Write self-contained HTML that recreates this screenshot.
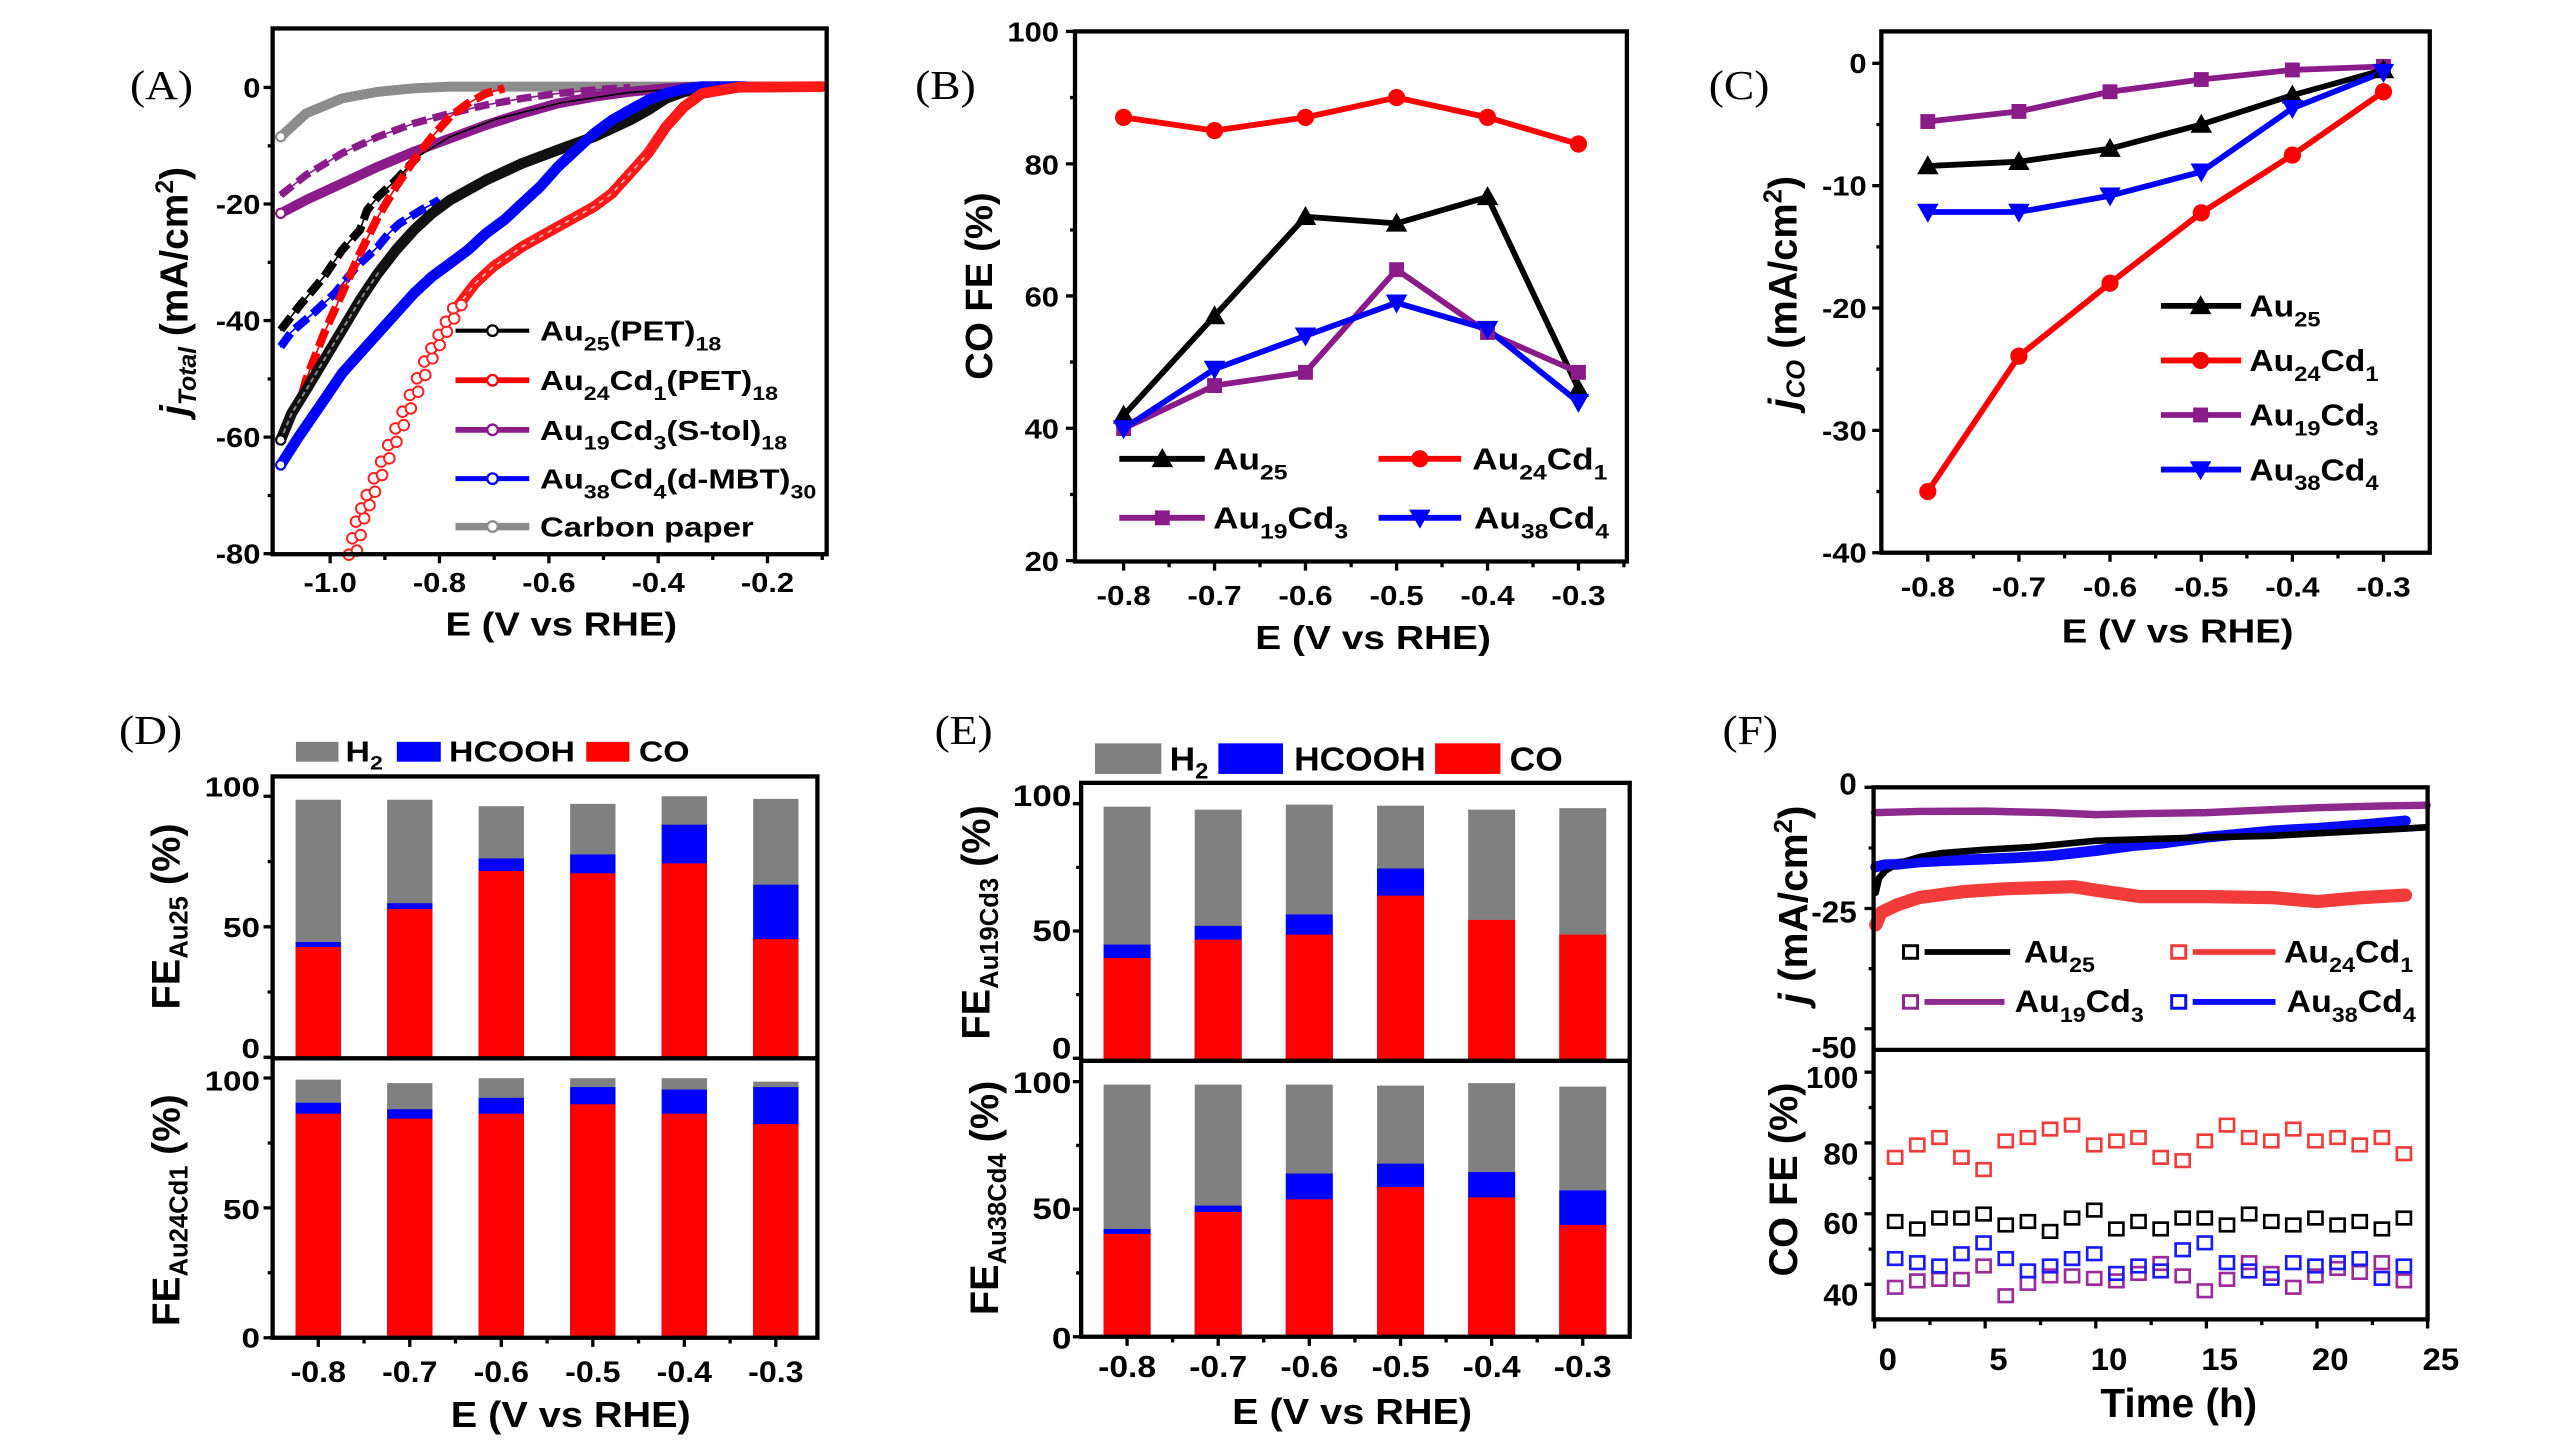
<!DOCTYPE html>
<html><head><meta charset="utf-8">
<style>
html,body{margin:0;padding:0;background:#fff;}
svg{display:block;}
text{font-family:"Liberation Sans",Arial,sans-serif;font-weight:bold;fill:#000;}
text.pl{font-family:"Liberation Serif","Times New Roman",serif;font-weight:normal;}
</style></head>
<body>
<svg xmlns="http://www.w3.org/2000/svg" width="2566" height="1449" viewBox="0 0 1552 876.4" preserveAspectRatio="none">
<rect x="0" y="0" width="1552" height="876.4" fill="#fff"/>

<!-- ================= PANEL A ================= -->
<text class="pl" transform="translate(78.6,60) scale(1.1,1)" font-size="25">(A)</text>
<g fill="none" stroke-linejoin="round" stroke-linecap="round">
  <path d="M169.8,82.7 L185.1,68.6 L206.9,59.5 L228.6,55.5 L250.4,53.4 L272.2,52.4 L497,52.4" stroke="#8c8c8c" stroke-width="6"/>
  <path d="M169.8,118 L185.1,105.9 L206.9,92.7 L228.6,82.7 L250.4,74.6 L272.2,68.6 L294,63.5 L315.8,59.5 L337.5,56.5 L359.3,54.4 L381.1,52.8" stroke="#8a1c8a" stroke-width="1"/>
  <path d="M169.8,118 L185.1,105.9 L206.9,92.7 L228.6,82.7 L250.4,74.6 L272.2,68.6 L294,63.5 L315.8,59.5 L337.5,56.5 L359.3,54.4 L381.1,52.8" stroke="#8a1c8a" stroke-width="4.5" stroke-dasharray="9 4" stroke-linecap="butt"/>
  <path d="M169.8,129 L185.1,121 L206.9,110.9 L228.6,100.8 L250.4,91.7 L272.2,83.7 L294,75.6 L315.8,68.6 L337.5,62.5 L359.3,58.5 L381.1,55.5 L402.9,53.4 L424.7,52.4 L470,52.4" stroke="#8a1c8a" stroke-width="6"/>
  <path d="M169.8,199.6 L180.7,185.5 L196,167.3 L206.9,151.2 L217.7,139.1 L222.1,127 L228.6,119 L239.5,108.9 L252.6,94.8 L272.2,82.7 L300,72 L340,62 L380,56 L420,53" stroke="#000" stroke-width="1"/>
  <path d="M169.8,199.6 L180.7,185.5 L196,167.3 L206.9,151.2 L217.7,139.1 L222.1,127 L228.6,119 L239.5,108.9 L252.6,94.8" stroke="#000" stroke-width="5" stroke-dasharray="10 4" stroke-linecap="butt"/>
  <path d="M169.8,209.7 L176.4,200.6 L189.4,189.5 L202.5,177.4 L215.6,161.3 L228.6,149.2 L235.2,141.1 L241.7,135.1 L254.8,127 L265.7,121" stroke="#0000ff" stroke-width="1"/>
  <path d="M169.8,209.7 L176.4,200.6 L189.4,189.5 L202.5,177.4 L215.6,161.3 L228.6,149.2 L235.2,141.1 L241.7,135.1 L254.8,127 L265.7,121" stroke="#0000ff" stroke-width="5" stroke-dasharray="10 4" stroke-linecap="butt"/>
  <path d="M182.9,237.9 L185.1,229.8 L196,201.6 L206.9,177.4 L217.7,153.2 L228.6,131.1 L239.5,112.9 L250.4,96.8 L261.3,82.7 L272.2,70.6 L283.1,62.5 L294,56.5 L304.9,53.4" stroke="#ff0000" stroke-width="1"/>
  <path d="M182.9,237.9 L185.1,229.8 L196,201.6 L206.9,177.4 L217.7,153.2 L228.6,131.1 L239.5,112.9 L250.4,96.8 L261.3,82.7 L272.2,70.6 L283.1,62.5 L294,56.5 L304.9,53.4" stroke="#ff0000" stroke-width="5" stroke-dasharray="11 4" stroke-linecap="butt"/>
  <path d="M169.8,266.1 L176.4,250 L185.1,235.9 L196,217.7 L206.9,199.6 L217.7,181.5 L228.6,165.3 L239.5,151.2 L250.4,139.1 L261.3,129 L272.2,121 L294,108.9 L315.8,98.8 L337.5,90.7 L359.3,82.7 L381.1,72.6 L392,66.5 L402.9,59.5 L413.8,55.5 L424.7,53.4 L446.4,52.4" stroke="#111" stroke-width="6.5"/>
  <path d="M169.8,266.1 L176.4,250 L185.1,235.9 L196,217.7 L206.9,199.6 L217.7,181.5 L228.6,165.3" stroke="#888" stroke-width="1.2" stroke-dasharray="2 3"/>
  <path d="M169.8,281.2 L180.7,264.1 L196,241.9 L206.9,225.8 L217.7,213.7 L228.6,201.6 L239.5,189.5 L250.4,177.4 L261.3,167.3 L272.2,159.3 L283.1,151.2 L294,141.1 L304.9,133.1 L315.8,123 L326.7,112.9 L337.5,100.8 L348.4,90.7 L359.3,80.7 L370.2,72.6 L381.1,66.5 L392,60.5 L402.9,56.5 L413.8,53.8 L424.7,52.4 L450,52.4" stroke="#0000ff" stroke-width="6.5"/>
  <path d="M276.6,185.5 L287.4,171.4 L298.3,161.3 L315.8,149.2 L337.5,137.1 L359.3,125 L370.2,116.9 L381.1,104.8 L392,92.7 L402.9,76.6 L413.8,64.5 L424.7,56.5 L446.4,52.8 L497,52.4" stroke="#ff1a1a" stroke-width="6.5"/>
  <path d="M276.6,185.5 L287.4,171.4 L298.3,161.3 L315.8,149.2 L337.5,137.1 L359.3,125 L370.2,116.9 L381.1,104.8 L392,92.7" stroke="#fff" stroke-width="1" stroke-dasharray="2 4" opacity="0.7"/>
</g>
<g fill="#fff" stroke="#ff2020" stroke-width="1.2">
  <circle cx="211" cy="335.5" r="3.2"/><circle cx="215.9" cy="333" r="3.2"/>
  <circle cx="213.1" cy="325.6" r="3.2"/><circle cx="218.1" cy="323.6" r="3.2"/>
  <circle cx="215.3" cy="315.5" r="3.2"/><circle cx="220.3" cy="313.5" r="3.2"/>
  <circle cx="218.5" cy="307.5" r="3.2"/><circle cx="223.5" cy="305.5" r="3.2"/>
  <circle cx="221.8" cy="299.4" r="3.2"/><circle cx="226.8" cy="297.4" r="3.2"/>
  <circle cx="226.1" cy="289.3" r="3.2"/><circle cx="231.1" cy="287.3" r="3.2"/>
  <circle cx="230.5" cy="279.2" r="3.2"/><circle cx="235.5" cy="277.2" r="3.2"/>
  <circle cx="234.8" cy="269.2" r="3.2"/><circle cx="239.8" cy="267.2" r="3.2"/>
  <circle cx="239.2" cy="259.1" r="3.2"/><circle cx="244.2" cy="257.1" r="3.2"/>
  <circle cx="243.5" cy="249" r="3.2"/><circle cx="248.5" cy="247" r="3.2"/>
  <circle cx="247.9" cy="238.9" r="3.2"/><circle cx="252.9" cy="236.9" r="3.2"/>
  <circle cx="252.2" cy="228.8" r="3.2"/><circle cx="257.2" cy="226.8" r="3.2"/>
  <circle cx="256.6" cy="218.7" r="3.2"/><circle cx="261.6" cy="216.7" r="3.2"/>
  <circle cx="260.9" cy="210.7" r="3.2"/><circle cx="265.9" cy="208.7" r="3.2"/>
  <circle cx="265.3" cy="202.6" r="3.2"/><circle cx="270.3" cy="200.6" r="3.2"/>
  <circle cx="269.7" cy="194.6" r="3.2"/><circle cx="274.7" cy="192.6" r="3.2"/>
  <circle cx="274.1" cy="186.5" r="3.2"/><circle cx="279.1" cy="184.5" r="3.2"/>
</g>
<g fill="#fff" stroke-width="1.3">
  <circle cx="169.8" cy="82.7" r="2.8" stroke="#8c8c8c"/>
  <circle cx="169.8" cy="129" r="2.8" stroke="#8a1c8a"/>
  <circle cx="169.8" cy="266.1" r="2.8" stroke="#000"/>
  <circle cx="169.8" cy="281.2" r="2.8" stroke="#0000ff"/>
</g>
<!-- A legend -->
<g fill="none">
  <path d="M275.5,200 H320.1" stroke="#000" stroke-width="2.5"/>
  <path d="M275.5,230 H320.1" stroke="#ff0000" stroke-width="3.5"/>
  <path d="M275.5,260 H320.1" stroke="#8a1c8a" stroke-width="3.5"/>
  <path d="M275.5,289.5 H320.1" stroke="#0000ff" stroke-width="3"/>
  <path d="M275.5,318.5 H320.1" stroke="#8c8c8c" stroke-width="4.5"/>
</g>
<g fill="#fff" stroke-width="1.4">
  <circle cx="297.9" cy="200" r="3.2" stroke="#000"/>
  <circle cx="297.9" cy="230" r="3.2" stroke="#ff0000"/>
  <circle cx="297.9" cy="260" r="3.2" stroke="#8a1c8a"/>
  <circle cx="297.9" cy="289.5" r="3.2" stroke="#0000ff"/>
  <circle cx="297.9" cy="318.5" r="3.2" stroke="#8c8c8c"/>
</g>
<g font-size="17">
  <text transform="translate(326.6,206) scale(1.17,1)">Au<tspan font-size="12" dy="6">25</tspan><tspan dy="-6">(PET)</tspan><tspan font-size="12" dy="6">18</tspan></text>
  <text transform="translate(326.6,236) scale(1.17,1)">Au<tspan font-size="12" dy="6">24</tspan><tspan dy="-6">Cd</tspan><tspan font-size="12" dy="6">1</tspan><tspan dy="-6">(PET)</tspan><tspan font-size="12" dy="6">18</tspan></text>
  <text transform="translate(326.6,266) scale(1.17,1)">Au<tspan font-size="12" dy="6">19</tspan><tspan dy="-6">Cd</tspan><tspan font-size="12" dy="6">3</tspan><tspan dy="-6">(S-tol)</tspan><tspan font-size="12" dy="6">18</tspan></text>
  <text transform="translate(326.6,295.5) scale(1.17,1)">Au<tspan font-size="12" dy="6">38</tspan><tspan dy="-6">Cd</tspan><tspan font-size="12" dy="6">4</tspan><tspan dy="-6">(d-MBT)</tspan><tspan font-size="12" dy="6">30</tspan></text>
  <text transform="translate(326.6,324.5) scale(1.17,1)">Carbon paper</text>
</g>
<!-- A axes -->
<rect x="164.9" y="17.2" width="335.1" height="318" fill="none" stroke="#000" stroke-width="2.6"/>
<path d="M164.9,52.9h-5.5M164.9,123.4h-5.5M164.9,193.9h-5.5M164.9,264.4h-5.5M164.9,334.9h-5.5M164.9,88.2h-3M164.9,158.7h-3M164.9,229.2h-3M164.9,299.7h-3
M199.7,335.2v5.5M265.8,335.2v5.5M332,335.2v5.5M398.1,335.2v5.5M464.2,335.2v5.5M232.8,335.2v3.5M298.9,335.2v3.5M365,335.2v3.5M431.1,335.2v3.5M497.3,335.2v3.5" stroke="#000" stroke-width="2" fill="none"/>
<g font-size="17" text-anchor="end">
  <text transform="translate(157.5,58.9) scale(1.1,1)">0</text>
  <text transform="translate(157.5,129.4) scale(1.1,1)">-20</text>
  <text transform="translate(157.5,199.9) scale(1.1,1)">-40</text>
  <text transform="translate(157.5,270.4) scale(1.1,1)">-60</text>
  <text transform="translate(157.5,340.9) scale(1.1,1)">-80</text>
</g>
<g font-size="17" text-anchor="middle">
  <text transform="translate(199.7,358) scale(1.1,1)">-1.0</text>
  <text transform="translate(265.8,358) scale(1.1,1)">-0.8</text>
  <text transform="translate(332,358) scale(1.1,1)">-0.6</text>
  <text transform="translate(398.1,358) scale(1.1,1)">-0.4</text>
  <text transform="translate(464.2,358) scale(1.1,1)">-0.2</text>
</g>
<text transform="translate(339.5,384.5) scale(1.14,1)" font-size="20.3" text-anchor="middle">E (V vs RHE)</text>
<text transform="translate(113.5,176.3) rotate(-90)" font-size="23.5" text-anchor="middle"><tspan font-style="italic">j</tspan><tspan font-style="italic" font-size="15" dy="5">Total</tspan><tspan dy="-5"> (mA/cm</tspan><tspan font-size="15" dy="-9">2</tspan><tspan dy="9">)</tspan></text>

<!-- ================= PANEL B ================= -->
<text class="pl" transform="translate(553.5,60) scale(1.1,1)" font-size="25">(B)</text>
<g fill="none" stroke-width="3.5" stroke-linejoin="round">
  <polyline points="679.6,71 734.6,79 789.6,71 844.7,59 899.7,71 954.7,87.1" stroke="#ff0000"/>
  <polyline points="679.6,251.2 734.6,191.1 789.6,131.1 844.7,135.1 899.7,119.1 954.7,235.2" stroke="#000"/>
  <polyline points="679.6,259.2 734.6,233.2 789.6,225.2 844.7,163.1 899.7,201.1 954.7,225.2" stroke="#8a1c8a"/>
  <polyline points="679.6,259.2 734.6,223.2 789.6,203.1 844.7,183.1 899.7,199.1 954.7,243.2" stroke="#0000ff"/>
</g>
<g fill="#ff0000">
  <circle cx="679.6" cy="71" r="5.2"/><circle cx="734.6" cy="79" r="5.2"/><circle cx="789.6" cy="71" r="5.2"/>
  <circle cx="844.7" cy="59" r="5.2"/><circle cx="899.7" cy="71" r="5.2"/><circle cx="954.7" cy="87.1" r="5.2"/>
</g>
<path fill="#000" d="M679.6,244.7 L673.1,256.2 L686.1,256.2Z M734.6,184.6 L728.1,196.1 L741.1,196.1Z M789.6,124.6 L783.1,136.1 L796.1,136.1Z M844.7,128.6 L838.2,140.1 L851.2,140.1Z M899.7,112.6 L893.2,124.1 L906.2,124.1Z M954.7,228.7 L948.2,240.2 L961.2,240.2Z"/>
<g fill="#8a1c8a">
  <rect x="675.1" y="254.7" width="9" height="9"/><rect x="730.1" y="228.7" width="9" height="9"/><rect x="785.1" y="220.7" width="9" height="9"/>
  <rect x="840.2" y="158.6" width="9" height="9"/><rect x="895.2" y="196.6" width="9" height="9"/><rect x="950.2" y="220.7" width="9" height="9"/>
</g>
<path fill="#0000ff" d="M679.6,265.7 L673.1,254.2 L686.1,254.2Z M734.6,229.7 L728.1,218.2 L741.1,218.2Z M789.6,209.6 L783.1,198.1 L796.1,198.1Z M844.7,189.6 L838.2,178.1 L851.2,178.1Z M899.7,205.6 L893.2,194.1 L906.2,194.1Z M954.7,249.7 L948.2,238.2 L961.2,238.2Z"/>
<!-- B legend -->
<g fill="none" stroke-width="3.5">
  <path d="M677,277.5 H728.7" stroke="#000"/>
  <path d="M833.8,277.5 H883.8" stroke="#ff0000"/>
  <path d="M677,313.2 H728.7" stroke="#8a1c8a"/>
  <path d="M833.8,313.2 H883.8" stroke="#0000ff"/>
</g>
<path fill="#000" d="M703,271 L696.5,282.5 L709.5,282.5Z"/>
<circle cx="858.8" cy="277.5" r="5.2" fill="#ff0000"/>
<rect x="698.5" y="308.7" width="9" height="9" fill="#8a1c8a"/>
<path fill="#0000ff" d="M858.8,319.7 L852.3,308.2 L865.3,308.2Z"/>
<g font-size="18.5">
  <text transform="translate(733.7,284) scale(1.15,1)">Au<tspan font-size="13" dy="6">25</tspan></text>
  <text transform="translate(890.5,284) scale(1.15,1)">Au<tspan font-size="13" dy="6">24</tspan><tspan dy="-6">Cd</tspan><tspan font-size="13" dy="6">1</tspan></text>
  <text transform="translate(733.7,319.7) scale(1.15,1)">Au<tspan font-size="13" dy="6">19</tspan><tspan dy="-6">Cd</tspan><tspan font-size="13" dy="6">3</tspan></text>
  <text transform="translate(891.5,319.7) scale(1.15,1)">Au<tspan font-size="13" dy="6">38</tspan><tspan dy="-6">Cd</tspan><tspan font-size="13" dy="6">4</tspan></text>
</g>
<!-- B axes -->
<rect x="650.2" y="19" width="333.8" height="320.6" fill="none" stroke="#000" stroke-width="2.6"/>
<path d="M650.2,19h-5.5M650.2,99.1h-5.5M650.2,179h-5.5M650.2,259h-5.5M650.2,339.1h-5.5M650.2,59h-3M650.2,139.1h-3M650.2,219h-3M650.2,299.1h-3
M679.6,339.6v5.5M734.6,339.6v5.5M789.6,339.6v5.5M844.7,339.6v5.5M899.7,339.6v5.5M954.7,339.6v5.5M707.1,339.6v3.5M762.1,339.6v3.5M817.2,339.6v3.5M872.2,339.6v3.5M927.2,339.6v3.5M982.2,339.6v3.5" stroke="#000" stroke-width="2" fill="none"/>
<g font-size="17" text-anchor="end">
  <text transform="translate(640.5,25) scale(1.1,1)">100</text>
  <text transform="translate(640.5,105.4) scale(1.1,1)">80</text>
  <text transform="translate(640.5,185.3) scale(1.1,1)">60</text>
  <text transform="translate(640.5,265.3) scale(1.1,1)">40</text>
  <text transform="translate(640.5,345.4) scale(1.1,1)">20</text>
</g>
<g font-size="17" text-anchor="middle">
  <text transform="translate(679.6,366) scale(1.12,1)">-0.8</text>
  <text transform="translate(734.6,366) scale(1.12,1)">-0.7</text>
  <text transform="translate(789.6,366) scale(1.12,1)">-0.6</text>
  <text transform="translate(844.7,366) scale(1.12,1)">-0.5</text>
  <text transform="translate(899.7,366) scale(1.12,1)">-0.4</text>
  <text transform="translate(954.7,366) scale(1.12,1)">-0.3</text>
</g>
<text transform="translate(830.5,392.5) scale(1.16,1)" font-size="20.3" text-anchor="middle">E (V vs RHE)</text>
<text transform="translate(600,173) rotate(-90)" font-size="23.2" text-anchor="middle">CO FE (%)</text>

<!-- ================= PANEL C ================= -->
<text class="pl" transform="translate(1033.5,60) scale(1.1,1)" font-size="25">(C)</text>
<g fill="none" stroke-width="3.5" stroke-linejoin="round">
  <polyline points="1166,73.5 1221.1,67.4 1276.2,55.5 1331.4,48.1 1386.5,42.3 1441.6,40.2" stroke="#8a1c8a"/>
  <polyline points="1166,100.4 1221.1,97.8 1276.2,89.9 1331.4,75.3 1386.5,57.6 1441.6,42.3" stroke="#000"/>
  <polyline points="1166,128.2 1221.1,128.2 1276.2,118.4 1331.4,103.9 1386.5,65.5 1441.6,43.6" stroke="#0000ff"/>
  <polyline points="1166,297.3 1221.1,215.4 1276.2,171.3 1331.4,128.7 1386.5,93.8 1441.6,55.5" stroke="#ff0000"/>
</g>
<g fill="#8a1c8a">
  <rect x="1161.5" y="69" width="9" height="9"/><rect x="1216.6" y="62.9" width="9" height="9"/><rect x="1271.7" y="51" width="9" height="9"/>
  <rect x="1326.9" y="43.6" width="9" height="9"/><rect x="1382" y="37.8" width="9" height="9"/><rect x="1437.1" y="35.7" width="9" height="9"/>
</g>
<path fill="#000" d="M1166,93.9 L1159.5,105.4 L1172.5,105.4Z M1221.1,91.3 L1214.6,102.8 L1227.6,102.8Z M1276.2,83.4 L1269.7,94.9 L1282.7,94.9Z M1331.4,68.8 L1324.9,80.3 L1337.9,80.3Z M1386.5,51.1 L1380,62.6 L1393,62.6Z M1441.6,35.8 L1435.1,47.3 L1448.1,47.3Z"/>
<path fill="#0000ff" d="M1166,134.7 L1159.5,123.2 L1172.5,123.2Z M1221.1,134.7 L1214.6,123.2 L1227.6,123.2Z M1276.2,124.9 L1269.7,113.4 L1282.7,113.4Z M1331.4,110.4 L1324.9,98.9 L1337.9,98.9Z M1386.5,72 L1380,60.5 L1393,60.5Z M1441.6,50.1 L1435.1,38.6 L1448.1,38.6Z"/>
<g fill="#ff0000">
  <circle cx="1166" cy="297.3" r="5.2"/><circle cx="1221.1" cy="215.4" r="5.2"/><circle cx="1276.2" cy="171.3" r="5.2"/>
  <circle cx="1331.4" cy="128.7" r="5.2"/><circle cx="1386.5" cy="93.8" r="5.2"/><circle cx="1441.6" cy="55.5" r="5.2"/>
</g>
<!-- C legend -->
<g fill="none" stroke-width="3.5">
  <path d="M1307,185 H1355.5" stroke="#000"/>
  <path d="M1307,218 H1355.5" stroke="#ff0000"/>
  <path d="M1307,251 H1355.5" stroke="#8a1c8a"/>
  <path d="M1307,284 H1355.5" stroke="#0000ff"/>
</g>
<path fill="#000" d="M1331,178.5 L1324.5,190 L1337.5,190Z"/>
<circle cx="1331" cy="218" r="5.2" fill="#ff0000"/>
<rect x="1326.5" y="246.5" width="9" height="9" fill="#8a1c8a"/>
<path fill="#0000ff" d="M1331,290.5 L1324.5,279 L1337.5,279Z"/>
<g font-size="18.5">
  <text transform="translate(1360.5,191.5) scale(1.1,1)">Au<tspan font-size="13" dy="6">25</tspan></text>
  <text transform="translate(1360.5,224.5) scale(1.1,1)">Au<tspan font-size="13" dy="6">24</tspan><tspan dy="-6">Cd</tspan><tspan font-size="13" dy="6">1</tspan></text>
  <text transform="translate(1360.5,257.5) scale(1.1,1)">Au<tspan font-size="13" dy="6">19</tspan><tspan dy="-6">Cd</tspan><tspan font-size="13" dy="6">3</tspan></text>
  <text transform="translate(1360.5,290.5) scale(1.1,1)">Au<tspan font-size="13" dy="6">38</tspan><tspan dy="-6">Cd</tspan><tspan font-size="13" dy="6">4</tspan></text>
</g>
<!-- C axes -->
<rect x="1137.9" y="19" width="331.7" height="315.3" fill="none" stroke="#000" stroke-width="2.6"/>
<path d="M1137.9,38.3h-5.5M1137.9,112.3h-5.5M1137.9,186.3h-5.5M1137.9,260.3h-5.5M1137.9,334.3h-5.5M1137.9,75.3h-3M1137.9,149.3h-3M1137.9,223.3h-3M1137.9,297.3h-3
M1166,334.3v5.5M1221.1,334.3v5.5M1276.2,334.3v5.5M1331.4,334.3v5.5M1386.5,334.3v5.5M1441.6,334.3v5.5M1193.6,334.3v3.5M1248.7,334.3v3.5M1303.8,334.3v3.5M1359,334.3v3.5M1414.1,334.3v3.5" stroke="#000" stroke-width="2" fill="none"/>
<g font-size="17" text-anchor="end">
  <text transform="translate(1129,44.3) scale(1.1,1)">0</text>
  <text transform="translate(1129,118.3) scale(1.1,1)">-10</text>
  <text transform="translate(1129,192.3) scale(1.1,1)">-20</text>
  <text transform="translate(1129,266.3) scale(1.1,1)">-30</text>
  <text transform="translate(1129,340.3) scale(1.1,1)">-40</text>
</g>
<g font-size="17" text-anchor="middle">
  <text transform="translate(1166,360.8) scale(1.12,1)">-0.8</text>
  <text transform="translate(1221.1,360.8) scale(1.12,1)">-0.7</text>
  <text transform="translate(1276.2,360.8) scale(1.12,1)">-0.6</text>
  <text transform="translate(1331.4,360.8) scale(1.12,1)">-0.5</text>
  <text transform="translate(1386.5,360.8) scale(1.12,1)">-0.4</text>
  <text transform="translate(1441.6,360.8) scale(1.12,1)">-0.3</text>
</g>
<text transform="translate(1317.1,388.5) scale(1.14,1)" font-size="20.3" text-anchor="middle">E (V vs RHE)</text>
<text transform="translate(1086.5,177) rotate(-90)" font-size="24" text-anchor="middle"><tspan font-style="italic">j</tspan><tspan font-style="italic" font-size="15.5" dy="5">CO</tspan><tspan dy="-5"> (mA/cm</tspan><tspan font-size="15.5" dy="-9">2</tspan><tspan dy="9">)</tspan></text>

<!-- ================= PANEL D ================= -->
<text class="pl" transform="translate(72,450) scale(1.1,1)" font-size="25">(D)</text>
<rect x="179" y="448.7" width="25.7" height="12" fill="#808080"/>
<rect x="240" y="448.7" width="26.6" height="12" fill="#0000ff"/>
<rect x="354.6" y="448.7" width="26.1" height="12" fill="#ff0000"/>
<g font-size="17.5">
  <text transform="translate(209,460.5) scale(1.17,1)">H<tspan font-size="12" dy="5">2</tspan></text>
  <text transform="translate(271.6,460.5) scale(1.17,1)">HCOOH</text>
  <text transform="translate(386.4,460.5) scale(1.17,1)">CO</text>
</g>
<g fill="#808080">
  <rect x="178.8" y="483.7" width="27.4" height="155.8"/><rect x="234.15" y="483.7" width="27.4" height="155.8"/>
  <rect x="289.5" y="487.6" width="27.4" height="151.9"/><rect x="344.85" y="486.2" width="27.4" height="153.3"/>
  <rect x="400.2" y="481.6" width="27.4" height="157.9"/><rect x="455.55" y="483.2" width="27.4" height="156.3"/>
  <rect x="178.8" y="653" width="27.4" height="156.1"/><rect x="234.15" y="655.1" width="27.4" height="154"/>
  <rect x="289.5" y="652.1" width="27.4" height="157"/><rect x="344.85" y="652.1" width="27.4" height="157"/>
  <rect x="400.2" y="652.1" width="27.4" height="157"/><rect x="455.55" y="654.2" width="27.4" height="154.9"/>
</g>
<g fill="#0000ff">
  <rect x="178.8" y="569.8" width="27.4" height="69.7"/><rect x="234.15" y="546.3" width="27.4" height="93.2"/>
  <rect x="289.5" y="519.2" width="27.4" height="120.3"/><rect x="344.85" y="516.8" width="27.4" height="122.7"/>
  <rect x="400.2" y="498.8" width="27.4" height="140.7"/><rect x="455.55" y="535.1" width="27.4" height="104.4"/>
  <rect x="178.8" y="667" width="27.4" height="142.1"/><rect x="234.15" y="670.9" width="27.4" height="138.2"/>
  <rect x="289.5" y="664" width="27.4" height="145.1"/><rect x="344.85" y="657.5" width="27.4" height="151.6"/>
  <rect x="400.2" y="659" width="27.4" height="150.1"/><rect x="455.55" y="657.5" width="27.4" height="151.6"/>
</g>
<g fill="#ff0000">
  <rect x="178.8" y="572.8" width="27.4" height="66.7"/><rect x="234.15" y="549.8" width="27.4" height="89.7"/>
  <rect x="289.5" y="526.8" width="27.4" height="112.7"/><rect x="344.85" y="528.2" width="27.4" height="111.3"/>
  <rect x="400.2" y="522.2" width="27.4" height="117.3"/><rect x="455.55" y="568" width="27.4" height="71.5"/>
  <rect x="178.8" y="673.6" width="27.4" height="135.5"/><rect x="234.15" y="676.6" width="27.4" height="132.5"/>
  <rect x="289.5" y="673.6" width="27.4" height="135.5"/><rect x="344.85" y="667.9" width="27.4" height="141.2"/>
  <rect x="400.2" y="673.6" width="27.4" height="135.5"/><rect x="455.55" y="679.9" width="27.4" height="129.2"/>
</g>
<rect x="164.9" y="469.6" width="329.5" height="339.5" fill="none" stroke="#000" stroke-width="2.6"/>
<path d="M164.9,640.1 H494.4" stroke="#000" stroke-width="2.6"/>
<path d="M164.9,481.6h-5.5M164.9,560.55h-5.5M164.9,639.5h-5.5M164.9,521.1h-3M164.9,600h-3M164.9,652h-5.5M164.9,730.55h-5.5M164.9,809.1h-5.5M164.9,691.3h-3M164.9,769.8h-3
M192.5,809.1v5.5M247.85,809.1v5.5M303.2,809.1v5.5M358.55,809.1v5.5M413.9,809.1v5.5M469.25,809.1v5.5M220.2,809.1v3.5M275.5,809.1v3.5M330.9,809.1v3.5M386.2,809.1v3.5M441.6,809.1v3.5" stroke="#000" stroke-width="2" fill="none"/>
<g font-size="17" text-anchor="end">
  <text transform="translate(157.2,481.6) scale(1.18,1)">100</text>
  <text transform="translate(157.2,566.8) scale(1.18,1)">50</text>
  <text transform="translate(157.2,640) scale(1.18,1)">0</text>
  <text transform="translate(157.2,659.5) scale(1.18,1)">100</text>
  <text transform="translate(157.2,737.3) scale(1.18,1)">50</text>
  <text transform="translate(157.2,815) scale(1.18,1)">0</text>
</g>
<g font-size="18" text-anchor="middle">
  <text transform="translate(192.5,836) scale(1.08,1)">-0.8</text>
  <text transform="translate(247.85,836) scale(1.08,1)">-0.7</text>
  <text transform="translate(303.2,836) scale(1.08,1)">-0.6</text>
  <text transform="translate(358.55,836) scale(1.08,1)">-0.5</text>
  <text transform="translate(413.9,836) scale(1.08,1)">-0.4</text>
  <text transform="translate(469.25,836) scale(1.08,1)">-0.3</text>
</g>
<text transform="translate(345.2,863) scale(1.09,1)" font-size="22" text-anchor="middle">E (V vs RHE)</text>
<text transform="translate(108.5,554.3) rotate(-90)" font-size="24" text-anchor="middle">FE<tspan font-size="15.5" dy="5">Au25</tspan><tspan dy="-5"> (%)</tspan></text>
<text transform="translate(108.5,732) rotate(-90)" font-size="23.5" text-anchor="middle">FE<tspan font-size="15.5" dy="5">Au24Cd1</tspan><tspan dy="-5"> (%)</tspan></text>

<!-- ================= PANEL E ================= -->
<text class="pl" transform="translate(565.3,450) scale(1.1,1)" font-size="25">(E)</text>
<rect x="662.3" y="449.6" width="40.1" height="18.5" fill="#808080"/>
<rect x="736.9" y="449.6" width="39.1" height="18.5" fill="#0000ff"/>
<rect x="868" y="449.6" width="39.5" height="18.5" fill="#ff0000"/>
<g font-size="20">
  <text transform="translate(707.4,466) scale(1.07,1)">H<tspan font-size="13.5" dy="5">2</tspan></text>
  <text transform="translate(782.7,466) scale(1.07,1)">HCOOH</text>
  <text transform="translate(913.1,466) scale(1.07,1)">CO</text>
</g>
<g fill="#808080">
  <rect x="667.5" y="487.9" width="28.4" height="153.1"/><rect x="722.6" y="489.7" width="28.4" height="151.3"/>
  <rect x="777.7" y="486.7" width="28.4" height="154.3"/><rect x="832.9" y="487.3" width="28.4" height="153.7"/>
  <rect x="888" y="489.7" width="28.4" height="151.3"/><rect x="943.1" y="488.8" width="28.4" height="152.2"/>
  <rect x="667.5" y="656" width="28.4" height="152.5"/><rect x="722.6" y="656" width="28.4" height="152.5"/>
  <rect x="777.7" y="656" width="28.4" height="152.5"/><rect x="832.9" y="656.6" width="28.4" height="151.9"/>
  <rect x="888" y="655.1" width="28.4" height="153.4"/><rect x="943.1" y="657.2" width="28.4" height="151.3"/>
</g>
<g fill="#0000ff">
  <rect x="667.5" y="571.3" width="28.4" height="69.7"/><rect x="722.6" y="560" width="28.4" height="81"/>
  <rect x="777.7" y="553.1" width="28.4" height="87.9"/><rect x="832.9" y="525.3" width="28.4" height="115.7"/>
  <rect x="667.5" y="743.3" width="28.4" height="65.2"/><rect x="722.6" y="729.2" width="28.4" height="79.3"/>
  <rect x="777.7" y="709.8" width="28.4" height="98.7"/><rect x="832.9" y="703.8" width="28.4" height="104.7"/>
  <rect x="888" y="708.9" width="28.4" height="99.6"/><rect x="943.1" y="720" width="28.4" height="88.5"/>
</g>
<g fill="#ff0000">
  <rect x="667.5" y="579.4" width="28.4" height="61.6"/><rect x="722.6" y="568.3" width="28.4" height="72.7"/>
  <rect x="777.7" y="565.3" width="28.4" height="75.7"/><rect x="832.9" y="541.7" width="28.4" height="99.3"/>
  <rect x="888" y="556.4" width="28.4" height="84.6"/><rect x="943.1" y="565.3" width="28.4" height="75.7"/>
  <rect x="667.5" y="746.3" width="28.4" height="62.2"/><rect x="722.6" y="733.1" width="28.4" height="75.4"/>
  <rect x="777.7" y="725.4" width="28.4" height="83.1"/><rect x="832.9" y="717.9" width="28.4" height="90.6"/>
  <rect x="888" y="724.2" width="28.4" height="84.3"/><rect x="943.1" y="740.9" width="28.4" height="67.6"/>
</g>
<rect x="653.9" y="473.5" width="331.8" height="335" fill="none" stroke="#000" stroke-width="2.6"/>
<path d="M653.9,641.6 H985.7" stroke="#000" stroke-width="2.6"/>
<path d="M653.9,486.1h-5M653.9,563.1h-5M653.9,640.1h-5M653.9,524.6h-3M653.9,601.6h-3M653.9,654.2h-5M653.9,731.35h-5M653.9,808.5h-5M653.9,692.8h-3M653.9,769.9h-3
M681.7,808.5v5.5M736.8,808.5v5.5M791.9,808.5v5.5M847.1,808.5v5.5M902.2,808.5v5.5M957.3,808.5v5.5M709.25,808.5v3.5M764.35,808.5v3.5M819.5,808.5v3.5M874.65,808.5v3.5M929.75,808.5v3.5" stroke="#000" stroke-width="2" fill="none"/>
<g font-size="18" text-anchor="end">
  <text transform="translate(648,487.6) scale(1.18,1)">100</text>
  <text transform="translate(648,569.2) scale(1.18,1)">50</text>
  <text transform="translate(648,640.1) scale(1.18,1)">0</text>
  <text transform="translate(648,661) scale(1.18,1)">100</text>
  <text transform="translate(648,737.3) scale(1.18,1)">50</text>
  <text transform="translate(648,815.7) scale(1.18,1)">0</text>
</g>
<g font-size="18.5" text-anchor="middle">
  <text transform="translate(681.7,833) scale(1.1,1)">-0.8</text>
  <text transform="translate(736.8,833) scale(1.1,1)">-0.7</text>
  <text transform="translate(791.9,833) scale(1.1,1)">-0.6</text>
  <text transform="translate(847.1,833) scale(1.1,1)">-0.5</text>
  <text transform="translate(902.2,833) scale(1.1,1)">-0.4</text>
  <text transform="translate(957.3,833) scale(1.1,1)">-0.3</text>
</g>
<text transform="translate(817.8,861.4) scale(1.09,1)" font-size="22" text-anchor="middle">E (V vs RHE)</text>
<text transform="translate(598.5,557.9) rotate(-90)" font-size="24" text-anchor="middle">FE<tspan font-size="15.5" dy="5">Au19Cd3</tspan><tspan dy="-5"> (%)</tspan></text>
<text transform="translate(603.5,724.5) rotate(-90)" font-size="24" text-anchor="middle">FE<tspan font-size="15.5" dy="5">Au38Cd4</tspan><tspan dy="-5"> (%)</tspan></text>

<!-- ================= PANEL F ================= -->
<text class="pl" transform="translate(1041.8,450) scale(1.1,1)" font-size="25">(F)</text>
<g fill="none" stroke-linejoin="round" stroke-linecap="round">
  <polyline points="1133.8,491.5 1160,490.8 1200.7,490.6 1240,491.5 1267.6,492.7 1300,492 1334.5,491.5 1374.6,489.7 1401.4,488.5 1440,487.5 1468,487" stroke="#8e2a8e" stroke-width="4.5"/>
  <polyline points="1134.5,524.4 1140,523 1147,522.8 1160.6,521.4 1175,520.6 1200.7,519.6 1220,518.8 1240.8,517.5 1267.6,514.5 1290,511.5 1307.7,510 1334.5,506.4 1374.6,502.5 1401.4,501 1428.2,498.9 1454.9,496.5" stroke="#0a0aff" stroke-width="6.5"/>
  <polyline points="1134.5,539.9 1136.5,531 1140.5,526.5 1147.2,522.6 1160.6,518.4 1173.9,516 1200.7,513.9 1227.5,512.4 1267.6,508.5 1300,507.5 1334.5,506.4 1374.6,505.5 1401.4,504 1441.5,501.9 1467.5,500.4" stroke="#000" stroke-width="4"/>
  <polyline points="1134.5,524.4 1140,523.5 1147,522.8 1160.6,521.4 1175,520.6 1200.7,519.6 1220,518.8 1240.8,517.5 1267.6,514.5" stroke="#0a0aff" stroke-width="5" opacity="0.9"/>
  <polyline points="1134.5,559.4 1137.8,551.9 1147.2,547.4 1160.6,542.9 1187.3,539.3 1214.1,537.5 1254.2,536.3 1267.6,538.4 1294.4,542.3 1334.5,542.3 1374.6,542.9 1401.4,545.3 1428.2,542.9 1454.9,541.4" stroke="#f23c3c" stroke-width="8"/>
</g>
<!-- F legend -->
<g fill="none" stroke-width="3.5">
  <path d="M1164,575.8 H1215.8" stroke="#000"/>
  <path d="M1326.2,575.8 H1376.3" stroke="#f23c3c"/>
  <path d="M1164,606 H1212.4" stroke="#8e2a8e"/>
  <path d="M1326.2,606 H1376.3" stroke="#0a0aff"/>
</g>
<g fill="none" stroke-width="1.8">
  <rect x="1151.3" y="572" width="8.5" height="7.6" stroke="#000"/>
  <rect x="1313.5" y="572" width="8.5" height="7.6" stroke="#f23c3c"/>
  <rect x="1151.3" y="602.2" width="8.5" height="7.6" stroke="#8e2a8e"/>
  <rect x="1313.5" y="602.2" width="8.5" height="7.6" stroke="#0a0aff"/>
</g>
<g font-size="19">
  <text transform="translate(1224.1,582) scale(1.08,1)">Au<tspan font-size="13" dy="6">25</tspan></text>
  <text transform="translate(1381.4,582) scale(1.08,1)">Au<tspan font-size="13" dy="6">24</tspan><tspan dy="-6">Cd</tspan><tspan font-size="13" dy="6">1</tspan></text>
  <text transform="translate(1218.5,612.2) scale(1.08,1)">Au<tspan font-size="13" dy="6">19</tspan><tspan dy="-6">Cd</tspan><tspan font-size="13" dy="6">3</tspan></text>
  <text transform="translate(1383,612.2) scale(1.08,1)">Au<tspan font-size="13" dy="6">38</tspan><tspan dy="-6">Cd</tspan><tspan font-size="13" dy="6">4</tspan></text>
</g>
<!-- F scatter -->
<g fill="none" stroke-width="1.6" stroke="#9b2a9b">
<rect x="1142" y="774.8" width="8.5" height="7.6"/><rect x="1155.4" y="770.9" width="8.5" height="7.6"/><rect x="1168.8" y="770" width="8.5" height="7.6"/><rect x="1182.1" y="770" width="8.5" height="7.6"/><rect x="1195.5" y="761.9" width="8.5" height="7.6"/><rect x="1208.9" y="779.9" width="8.5" height="7.6"/><rect x="1222.3" y="772.4" width="8.5" height="7.6"/><rect x="1235.7" y="767.9" width="8.5" height="7.6"/><rect x="1249" y="767.9" width="8.5" height="7.6"/><rect x="1262.4" y="769.4" width="8.5" height="7.6"/><rect x="1275.8" y="770.9" width="8.5" height="7.6"/><rect x="1289.2" y="766.4" width="8.5" height="7.6"/><rect x="1302.6" y="760.4" width="8.5" height="7.6"/><rect x="1315.9" y="767.9" width="8.5" height="7.6"/><rect x="1329.3" y="776.9" width="8.5" height="7.6"/><rect x="1342.7" y="770" width="8.5" height="7.6"/><rect x="1356.1" y="759.9" width="8.5" height="7.6"/><rect x="1369.5" y="766.4" width="8.5" height="7.6"/><rect x="1382.8" y="774.8" width="8.5" height="7.6"/><rect x="1396.2" y="767.9" width="8.5" height="7.6"/><rect x="1409.6" y="763.4" width="8.5" height="7.6"/><rect x="1423" y="765.8" width="8.5" height="7.6"/><rect x="1436.4" y="759.9" width="8.5" height="7.6"/><rect x="1449.7" y="770.9" width="8.5" height="7.6"/>
</g>
<g fill="none" stroke-width="1.6" stroke="#1a1aff">
<rect x="1142" y="757.4" width="8.5" height="7.6"/><rect x="1155.4" y="759.9" width="8.5" height="7.6"/><rect x="1168.8" y="761.9" width="8.5" height="7.6"/><rect x="1182.1" y="754.5" width="8.5" height="7.6"/><rect x="1195.5" y="747.9" width="8.5" height="7.6"/><rect x="1208.9" y="757.4" width="8.5" height="7.6"/><rect x="1222.3" y="764.9" width="8.5" height="7.6"/><rect x="1235.7" y="761.9" width="8.5" height="7.6"/><rect x="1249" y="757.4" width="8.5" height="7.6"/><rect x="1262.4" y="754.5" width="8.5" height="7.6"/><rect x="1275.8" y="766.4" width="8.5" height="7.6"/><rect x="1289.2" y="761.9" width="8.5" height="7.6"/><rect x="1302.6" y="764.9" width="8.5" height="7.6"/><rect x="1315.9" y="752.1" width="8.5" height="7.6"/><rect x="1329.3" y="747.9" width="8.5" height="7.6"/><rect x="1342.7" y="759.9" width="8.5" height="7.6"/><rect x="1356.1" y="764.9" width="8.5" height="7.6"/><rect x="1369.5" y="769.4" width="8.5" height="7.6"/><rect x="1382.8" y="759.9" width="8.5" height="7.6"/><rect x="1396.2" y="761.9" width="8.5" height="7.6"/><rect x="1409.6" y="759.9" width="8.5" height="7.6"/><rect x="1423" y="757.4" width="8.5" height="7.6"/><rect x="1436.4" y="769.4" width="8.5" height="7.6"/><rect x="1449.7" y="761.9" width="8.5" height="7.6"/>
</g>
<g fill="none" stroke-width="1.6" stroke="#000">
<rect x="1142" y="735" width="8.5" height="7.6"/><rect x="1155.4" y="739.5" width="8.5" height="7.6"/><rect x="1168.8" y="732.9" width="8.5" height="7.6"/><rect x="1182.1" y="732.9" width="8.5" height="7.6"/><rect x="1195.5" y="730.5" width="8.5" height="7.6"/><rect x="1208.9" y="737.1" width="8.5" height="7.6"/><rect x="1222.3" y="735" width="8.5" height="7.6"/><rect x="1235.7" y="741" width="8.5" height="7.6"/><rect x="1249" y="732.9" width="8.5" height="7.6"/><rect x="1262.4" y="728.1" width="8.5" height="7.6"/><rect x="1275.8" y="739.5" width="8.5" height="7.6"/><rect x="1289.2" y="735" width="8.5" height="7.6"/><rect x="1302.6" y="739.5" width="8.5" height="7.6"/><rect x="1315.9" y="732.9" width="8.5" height="7.6"/><rect x="1329.3" y="732.9" width="8.5" height="7.6"/><rect x="1342.7" y="737.1" width="8.5" height="7.6"/><rect x="1356.1" y="730.5" width="8.5" height="7.6"/><rect x="1369.5" y="735" width="8.5" height="7.6"/><rect x="1382.8" y="737.1" width="8.5" height="7.6"/><rect x="1396.2" y="732.9" width="8.5" height="7.6"/><rect x="1409.6" y="737.1" width="8.5" height="7.6"/><rect x="1423" y="735" width="8.5" height="7.6"/><rect x="1436.4" y="739.5" width="8.5" height="7.6"/><rect x="1449.7" y="732.9" width="8.5" height="7.6"/>
</g>
<g fill="none" stroke-width="1.6" stroke="#f23c3c">
<rect x="1142" y="696.2" width="8.5" height="7.6"/><rect x="1155.4" y="688.7" width="8.5" height="7.6"/><rect x="1168.8" y="684.2" width="8.5" height="7.6"/><rect x="1182.1" y="696.2" width="8.5" height="7.6"/><rect x="1195.5" y="703.6" width="8.5" height="7.6"/><rect x="1208.9" y="686.3" width="8.5" height="7.6"/><rect x="1222.3" y="684.2" width="8.5" height="7.6"/><rect x="1235.7" y="679.1" width="8.5" height="7.6"/><rect x="1249" y="676.7" width="8.5" height="7.6"/><rect x="1262.4" y="688.7" width="8.5" height="7.6"/><rect x="1275.8" y="686.3" width="8.5" height="7.6"/><rect x="1289.2" y="684.2" width="8.5" height="7.6"/><rect x="1302.6" y="696.2" width="8.5" height="7.6"/><rect x="1315.9" y="698.2" width="8.5" height="7.6"/><rect x="1329.3" y="686.3" width="8.5" height="7.6"/><rect x="1342.7" y="676.7" width="8.5" height="7.6"/><rect x="1356.1" y="684.2" width="8.5" height="7.6"/><rect x="1369.5" y="686.3" width="8.5" height="7.6"/><rect x="1382.8" y="679.1" width="8.5" height="7.6"/><rect x="1396.2" y="686.3" width="8.5" height="7.6"/><rect x="1409.6" y="684.2" width="8.5" height="7.6"/><rect x="1423" y="688.7" width="8.5" height="7.6"/><rect x="1436.4" y="684.2" width="8.5" height="7.6"/><rect x="1449.7" y="694" width="8.5" height="7.6"/>
</g>
<!-- F axes -->
<rect x="1133.2" y="476.2" width="335.1" height="321.8" fill="none" stroke="#000" stroke-width="2.6"/>
<path d="M1133.2,635 H1468.3" stroke="#000" stroke-width="2.6"/>
<path d="M1133.2,476.2h-5.5M1133.2,549.5h-5.5M1133.2,622.2h-5.5M1133.2,512.9h-3M1133.2,585.9h-3M1133.2,648.5h-5.5M1133.2,691.3h-5.5M1133.2,734.1h-5.5M1133.2,776.8h-5.5M1133.2,669.9h-3M1133.2,712.7h-3M1133.2,755.5h-3
M1133.8,798v5.5M1200.7,798v5.5M1267.6,798v5.5M1334.5,798v5.5M1401.4,798v5.5M1468.3,798v5.5M1167.3,798v3.5M1234.2,798v3.5M1301.1,798v3.5M1368,798v3.5M1434.9,798v3.5" stroke="#000" stroke-width="2" fill="none"/>
<g font-size="18.5" text-anchor="end">
  <text transform="translate(1123,480.5) scale(1.03,1)">0</text>
  <text transform="translate(1123,557.9) scale(1.03,1)">-25</text>
  <text transform="translate(1123,640) scale(1.03,1)">-50</text>
  <text transform="translate(1124,658) scale(1.03,1)">100</text>
  <text transform="translate(1124,704.4) scale(1.03,1)">80</text>
  <text transform="translate(1124,746.3) scale(1.03,1)">60</text>
  <text transform="translate(1124,789.7) scale(1.03,1)">40</text>
</g>
<g font-size="19" text-anchor="middle">
  <text transform="translate(1141.8,828.5) scale(1.05,1)">0</text>
  <text transform="translate(1208.7,828.5) scale(1.05,1)">5</text>
  <text transform="translate(1275.6,828.5) scale(1.05,1)">10</text>
  <text transform="translate(1342.5,828.5) scale(1.05,1)">15</text>
  <text transform="translate(1409.4,828.5) scale(1.05,1)">20</text>
  <text transform="translate(1476.3,828.5) scale(1.05,1)">25</text>
</g>
<text transform="translate(1317.8,857)" font-size="24.5" text-anchor="middle">Time (h)</text>
<text transform="translate(1093,547.4) rotate(-90)" font-size="24.5" text-anchor="middle"><tspan font-style="italic">j</tspan> (mA/cm<tspan font-size="15.5" dy="-9">2</tspan><tspan dy="9">)</tspan></text>
<text transform="translate(1087,713.4) rotate(-90)" font-size="24" text-anchor="middle">CO FE (%)</text>
</svg>
</body></html>
